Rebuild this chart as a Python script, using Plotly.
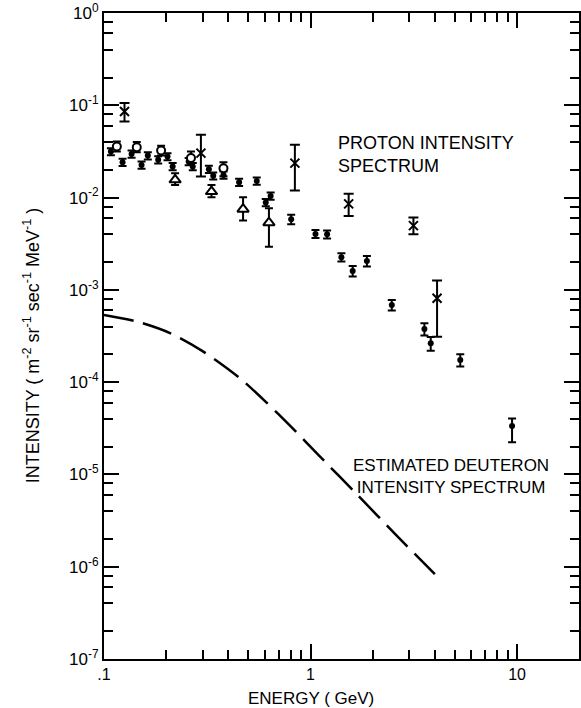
import plotly.graph_objects as go

FONT = "Liberation Sans, Arial, sans-serif"

# ---- Proton intensity data (filled dots) ----
dot_energy = [0.108, 0.123, 0.136, 0.152, 0.163, 0.183, 0.203, 0.215, 0.257, 0.269,
              0.322, 0.338, 0.379, 0.451, 0.549, 0.607, 0.641, 0.806, 1.057, 1.203,
              1.411, 1.60, 1.875, 2.475, 3.56, 3.82, 5.31, 9.46]
dot_intensity = [0.0315, 0.0242, 0.0296, 0.0226, 0.0285, 0.0257, 0.0278, 0.0217, 0.0246, 0.0217,
                 0.0203, 0.0172, 0.0176, 0.0147, 0.0151, 0.00883, 0.0104, 0.00583, 0.00404, 0.00401,
                 0.00226, 0.0016, 0.00206, 0.000686, 0.000377, 0.000264, 0.000174, 3.34e-5]
dot_err_up_pct = [9, 9, 9, 9, 9, 9, 9, 9, 9, 9, 9, 9, 9, 9, 9, 9, 9, 12, 10, 10,
                  10, 13, 13, 13, 15, 17, 15, 21]
dot_err_down_pct = [9, 9, 9, 9, 9, 9, 9, 9, 9, 9, 9, 9, 9, 9, 9, 9, 9, 12, 10, 10,
                    10, 13, 13, 13, 15, 17, 15, 33]

# ---- Open circles ----
circ_energy = [0.1154, 0.1441, 0.189, 0.2637, 0.3788]
circ_intensity = [0.0357, 0.0350, 0.0323, 0.0268, 0.0208]
circ_hi = [0.0405, 0.0400, 0.0365, 0.0316, 0.0242]
circ_lo = [0.0315, 0.0310, 0.0285, 0.0226, 0.0170]

# ---- Open triangles ----
tri_energy = [0.221, 0.3315, 0.4714, 0.629]
tri_intensity = [0.01556, 0.01161, 0.00748, 0.00535]
tri_hi = [0.0184, 0.0137, 0.0101, 0.00767]
tri_lo = [0.0137, 0.0101, 0.00563, 0.00294]

# ---- Crosses ----
x_energy = [0.1257, 0.2946, 0.840, 1.53, 3.15, 4.10]
x_intensity = [0.0857, 0.0303, 0.0236, 0.00855, 0.00497, 0.00081]
x_hi = [0.1056, 0.0479, 0.0373, 0.01097, 0.00607, 0.00126]
x_lo = [0.0667, 0.0169, 0.0119, 0.00633, 0.00401, 0.00031]

# ---- Estimated deuteron spectrum (dashed) ----
deut_energy = [0.1, 0.145, 0.21, 0.30, 0.45, 0.6, 0.8, 1.1, 1.7, 2.6, 4.0]
deut_intensity = [5.35e-4, 4.52e-4, 3.38e-4, 2.17e-4, 1.125e-4, 6.28e-5, 3.33e-5,
                  1.60e-5, 5.9e-6, 2.20e-6, 8.3e-7]

# ---- Tick labels ----
x_tickvals = [0.1, 1, 10]
x_ticktext = [".1", "1", "10"]
y_exponents = [0, -1, -2, -3, -4, -5, -6, -7]


def err_from_bounds(vals, hi, lo):
    return [h - v for v, h in zip(vals, hi)], [v - l for v, l in zip(vals, lo)]


fig = go.Figure()

dot_up = [v * p / 100 for v, p in zip(dot_intensity, dot_err_up_pct)]
dot_dn = [v * p / 100 for v, p in zip(dot_intensity, dot_err_down_pct)]
fig.add_trace(go.Scatter(
    x=dot_energy, y=dot_intensity, mode="markers",
    marker=dict(symbol="circle", size=6, color="black"),
    error_y=dict(type="data", array=dot_up, arrayminus=dot_dn, symmetric=False,
                 color="black", thickness=2, width=4),
    showlegend=False))

cu, cd = err_from_bounds(circ_intensity, circ_hi, circ_lo)
fig.add_trace(go.Scatter(
    x=circ_energy, y=circ_intensity, mode="markers",
    marker=dict(symbol="circle", size=8, color="white", line=dict(color="black", width=2)),
    error_y=dict(type="data", array=cu, arrayminus=cd, symmetric=False,
                 color="black", thickness=2, width=4),
    showlegend=False))

tu, td = err_from_bounds(tri_intensity, tri_hi, tri_lo)
fig.add_trace(go.Scatter(
    x=tri_energy, y=tri_intensity, mode="markers",
    marker=dict(symbol="triangle-up", size=10, color="white", line=dict(color="black", width=2)),
    error_y=dict(type="data", array=tu, arrayminus=td, symmetric=False,
                 color="black", thickness=2, width=4),
    showlegend=False))

xu, xd = err_from_bounds(x_intensity, x_hi, x_lo)
fig.add_trace(go.Scatter(
    x=x_energy, y=x_intensity, mode="markers",
    marker=dict(symbol="x-thin-open", size=9, color="black", line=dict(color="black", width=2)),
    error_y=dict(type="data", array=xu, arrayminus=xd, symmetric=False,
                 color="black", thickness=2, width=5),
    showlegend=False))

fig.add_trace(go.Scatter(
    x=deut_energy, y=deut_intensity, mode="lines",
    line=dict(color="black", width=2.5, dash="30px,10px", shape="spline", smoothing=0.8),
    showlegend=False))

minor_x = [m * 10 ** k for k in (-1, 0, 1) for m in range(2, 10)]
minor_y = [m * 10.0 ** k for k in range(-7, 0) for m in (2, 4, 6, 8)]

fig.update_xaxes(
    type="log", range=[-1, 1.3],
    showline=True, linecolor="black", linewidth=2, mirror="ticks",
    ticks="inside", ticklen=15, tickwidth=2, tickcolor="black",
    tickvals=x_tickvals, ticktext=x_ticktext,
    tickfont=dict(family=FONT, size=16, color="black"),
    showgrid=False, zeroline=False,
    minor=dict(ticks="inside", ticklen=9, tickwidth=2, tickcolor="black",
               tickvals=minor_x, showgrid=False),
)
fig.update_yaxes(
    type="log", range=[-7, 0],
    showline=True, linecolor="black", linewidth=2, mirror="ticks",
    ticks="inside", ticklen=15, tickwidth=2, tickcolor="black",
    tickvals=[10.0 ** e for e in y_exponents],
    ticktext=["10<sup>%d</sup>" % e for e in y_exponents],
    tickfont=dict(family=FONT, size=17, color="black"),
    showgrid=False, zeroline=False,
    minor=dict(ticks="inside", ticklen=9, tickwidth=2, tickcolor="black",
               tickvals=minor_y, showgrid=False),
)

y_title = ("INTENSITY ( m<sup>-2</sup> sr<sup>-1</sup> "
           "sec<sup>-1</sup> MeV<sup>-1</sup> )")

annotations = [
    dict(text="PROTON INTENSITY<br>SPECTRUM", xref="paper", yref="paper",
         x=0.4885, y=0.818, xanchor="left", yanchor="top", align="left", showarrow=False,
         font=dict(family=FONT, size=18, color="black")),
    dict(text="ESTIMATED DEUTERON<br>INTENSITY SPECTRUM", xref="paper", yref="paper",
         x=0.731, y=0.318, xanchor="center", yanchor="top", align="center", showarrow=False,
         font=dict(family=FONT, size=17, color="black")),
    dict(text="ENERGY ( GeV)", xref="paper", yref="paper",
         x=0.436, y=-0.043, xanchor="center", yanchor="top", showarrow=False,
         font=dict(family=FONT, size=17, color="black")),
    dict(text=y_title,
         xref="paper", yref="paper", x=-0.153, y=0.486, xanchor="center", yanchor="middle",
         textangle=-90, showarrow=False,
         font=dict(family=FONT, size=18, color="black")),
]

fig.update_layout(
    width=581, height=708,
    margin=dict(l=104, r=0, t=13, b=49),
    paper_bgcolor="white", plot_bgcolor="white",
    annotations=annotations,
    showlegend=False,
)

fig.write_html("out.html")
